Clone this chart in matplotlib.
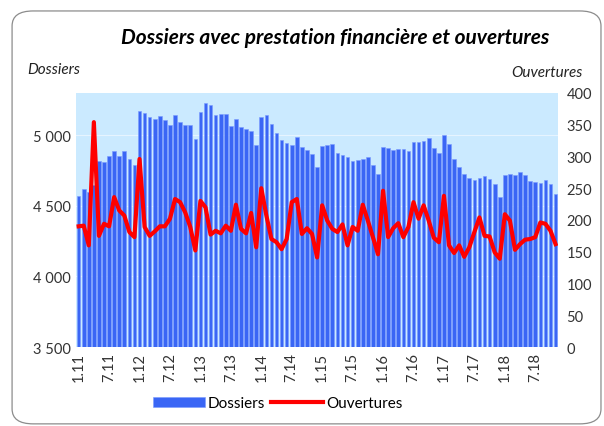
import numpy as np
import matplotlib
matplotlib.use('Agg')
import matplotlib.pyplot as plt
from matplotlib.patches import FancyBboxPatch

# monthly data, Jan 2011 .. Nov 2018
dossiers = [4570, 4622, 4598, 4650, 4817, 4812, 4855, 4888, 4850, 4888, 4834, 4787,
            5171, 5159, 5128, 5112, 5140, 5105, 5070, 5142, 5093, 5072, 5072, 4975,
            5168, 5230, 5213, 5147, 5150, 5150, 5065, 5117, 5060, 5041, 5032, 4933,
            5128, 5145, 5081, 5013, 4966, 4942, 4933, 4990, 4919, 4893, 4867, 4775,
            4924, 4928, 4940, 4876, 4857, 4843, 4820, 4827, 4834, 4843, 4787, 4723,
            4916, 4912, 4898, 4902, 4900, 4888, 4952, 4952, 4959, 4978, 4912, 4872,
            5001, 4935, 4834, 4775, 4728, 4700, 4681, 4700, 4709, 4693, 4652, 4565,
            4716, 4723, 4721, 4742, 4716, 4674, 4669, 4660, 4683, 4652, 4582]
ouvertures = [190, 191, 160, 354, 175, 194, 190, 236, 215, 207, 181, 173,
              296, 189, 175, 182, 190, 190, 202, 233, 228, 212, 189, 152,
              230, 220, 177, 183, 179, 191, 183, 224, 186, 179, 211, 157,
              250, 207, 170, 165, 154, 170, 228, 233, 178, 187, 178, 141,
              223, 199, 186, 181, 193, 160, 189, 183, 224, 199, 173, 146,
              246, 173, 187, 195, 173, 189, 228, 202, 223, 199, 172, 165,
              238, 160, 148, 160, 142, 157, 181, 204, 175, 174, 149, 139,
              209, 199, 153, 162, 169, 170, 173, 196, 194, 183, 162]
tick_labels = ['1.11', '7.11', '1.12', '7.12', '1.13', '7.13', '1.14', '7.14',
               '1.15', '7.15', '1.16', '7.16', '1.17', '7.17', '1.18', '7.18']

plt.rcParams['font.family'] = ['Lato', 'DejaVu Sans']

fig = plt.figure(figsize=(6.04, 4.27), dpi=100)
fig.patches.append(FancyBboxPatch((0.02, 0.005), 0.975, 0.967,
                                  boxstyle='round,pad=0,rounding_size=0.035',
                                  transform=fig.transFigure, facecolor='none',
                                  edgecolor='#8c8c8c', linewidth=0.9))

ax = fig.add_axes([0.126, 0.185, 0.798, 0.595])
x = np.arange(len(dossiers))
ax.set_facecolor('#cbeaff')
ax.bar(x, dossiers, width=0.72, color='#3a66f5', edgecolor='#7b9bff',
       linewidth=0.4, label='Dossiers', zorder=2)
ax.set_ylim(3500, 5300)
ax.set_xlim(-0.5, len(dossiers) - 0.5)
ax.set_yticks([3500, 4000, 4500, 5000])
ax.set_yticklabels(['3 500', '4 000', '4 500', '5 000'])
ax.set_xticks(np.arange(0, len(dossiers), 6))
ax.set_xticklabels(tick_labels, rotation=90)
ax.grid(axis='y', color='#e6f4ff', linewidth=0.8, zorder=1)
ax.set_axisbelow(True)
for s in ax.spines.values():
    s.set_visible(False)
ax.tick_params(length=0, labelsize=10.5, colors='#333333')

ax2 = ax.twinx()
ax2.plot(x, ouvertures, color='#ff0000', linewidth=3.0, label='Ouvertures',
         solid_joinstyle='round', zorder=3)
ax2.set_ylim(0, 400)
ax2.set_yticks(range(0, 401, 50))
for s in ax2.spines.values():
    s.set_visible(False)
ax2.tick_params(length=0, labelsize=10.5, colors='#333333', pad=6)

fig.text(0.555, 0.912, 'Dossiers avec prestation financière et ouvertures',
         ha='center', va='center', fontsize=15, fontweight='bold',
         style='italic')
fig.text(0.045, 0.835, 'Dossiers', ha='left', va='center', fontsize=11,
         style='italic', color='#222222')
fig.text(0.965, 0.83, 'Ouvertures', ha='right', va='center', fontsize=11,
         style='italic', color='#222222')

h1, l1 = ax.get_legend_handles_labels()
h2, l2 = ax2.get_legend_handles_labels()
fig.legend(h1 + h2, l1 + l2, loc='center', bbox_to_anchor=(0.46, 0.053),
           ncol=2, frameon=False, fontsize=11, handlelength=3.4,
           columnspacing=0.4, handletextpad=0.2)

fig.savefig('out.png', dpi=100)
